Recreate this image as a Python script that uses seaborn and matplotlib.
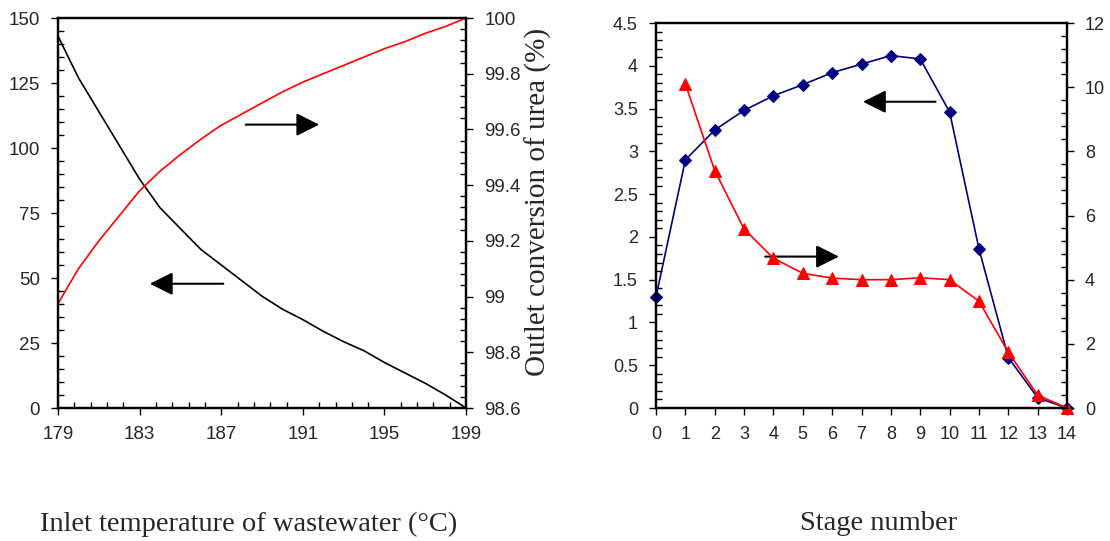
import numpy as np
import pandas as pd
import seaborn as sns
import matplotlib.pyplot as plt
from matplotlib.ticker import MultipleLocator, FixedLocator

# left chart: inlet temperature sweep
temps = list(range(179, 200))
left_black = [143, 127, 114, 101, 88, 77, 69, 61, 55, 49, 43, 38, 34, 29.5,
              25.5, 22, 17.5, 13.5, 9.5, 5, 0]
urea_conv = [98.975, 99.1, 99.2, 99.29, 99.38, 99.45, 99.51, 99.565, 99.615,
             99.655, 99.695, 99.735, 99.77, 99.8, 99.83, 99.86, 99.89, 99.915,
             99.945, 99.97, 100.0]
temp_ticks = [179, 183, 187, 191, 195, 199]

# right chart: stage profile
stages = list(range(0, 15))
blue_vals = [1.3, 2.9, 3.25, 3.48, 3.65, 3.78, 3.92, 4.02, 4.12, 4.08, 3.46,
             1.86, 0.59, 0.12, 0.0]
red_stages = list(range(1, 15))
red_vals = [10.1, 7.4, 5.58, 4.67, 4.2, 4.05, 4.0, 4.0, 4.06, 4.0, 3.33,
            1.74, 0.4, 0.0]

sns.set_style('white')
plt.rcParams['font.family'] = ['Liberation Sans', 'DejaVu Sans']

fig = plt.figure(figsize=(11.1, 5.41), dpi=100)
ax1 = fig.add_axes([0.0523, 0.2458, 0.3676, 0.7209])
ax2 = fig.add_axes([0.591, 0.2458, 0.3703, 0.7116])

serif = ['Liberation Serif', 'DejaVu Serif']
arrow_kw = dict(arrowstyle='-|>,head_length=0.7,head_width=0.35',
                color='black', lw=1.5, mutation_scale=20, shrinkA=0, shrinkB=0)


def style_axis(ax, size):
    for s in ax.spines.values():
        s.set_linewidth(1.6)
        s.set_color('black')
    ax.tick_params(which='major', direction='out', length=5, width=1,
                   labelsize=size, color='black')
    ax.tick_params(which='minor', direction='in', length=4, width=1,
                   color='black')
    ax.tick_params(axis='y', which='major', pad=8)
    ax.tick_params(axis='x', which='major', pad=8)


# ---- left chart
sns.lineplot(x=temps, y=left_black, ax=ax1, color='black', lw=1.2,
             estimator=None, sort=False)
ax1.set_xlim(179, 199)
ax1.set_ylim(0, 150)
ax1.xaxis.set_major_locator(FixedLocator(temp_ticks))
ax1.xaxis.set_minor_locator(FixedLocator(np.arange(179, 199.01, 0.8)))
ax1.yaxis.set_major_locator(MultipleLocator(25))
ax1.yaxis.set_minor_locator(MultipleLocator(5))
style_axis(ax1, 13.5)
ax1.tick_params(left=True, bottom=True, which='both')
ax1.set_xlabel('')
ax1.set_ylabel('')

ax1r = ax1.twinx()
sns.lineplot(x=temps, y=urea_conv, ax=ax1r, color='red', lw=1.2,
             estimator=None, sort=False)
ax1r.set_ylim(98.6, 100)
ax1r.yaxis.set_major_locator(MultipleLocator(0.2))
ax1r.yaxis.set_minor_locator(MultipleLocator(0.04))
ax1r.yaxis.set_major_formatter(plt.FuncFormatter(lambda v, p: f'{v:g}'))
style_axis(ax1r, 13.5)
ax1r.tick_params(right=True, which='both')
ax1r.set_ylabel('')

ax1.annotate('', xy=(183.5, 47.8), xytext=(187.1, 47.8), arrowprops=arrow_kw)
ax1.annotate('', xy=(191.8, 109), xytext=(188.2, 109), arrowprops=arrow_kw)

# ---- right chart
sns.lineplot(x=stages, y=blue_vals, ax=ax2, color='#000080', lw=1.2,
             marker='D', markersize=6, markeredgecolor='#000080',
             estimator=None, sort=False)
ax2.set_xlim(0, 14)
ax2.set_ylim(0, 4.5)
ax2.xaxis.set_major_locator(MultipleLocator(1))
ax2.yaxis.set_major_locator(MultipleLocator(0.5))
ax2.yaxis.set_minor_locator(MultipleLocator(0.1))
ax2.yaxis.set_major_formatter(plt.FuncFormatter(lambda v, p: f'{v:g}'))
style_axis(ax2, 13)
ax2.tick_params(left=True, bottom=True, which='both')
ax2.set_xlabel('')
ax2.set_ylabel('')

ax2r = ax2.twinx()
sns.lineplot(x=red_stages, y=red_vals, ax=ax2r, color='red', lw=1.2,
             marker='^', markersize=9, markeredgecolor='red',
             estimator=None, sort=False)
ax2r.set_ylim(0, 12)
ax2r.yaxis.set_major_locator(MultipleLocator(2))
ax2r.yaxis.set_minor_locator(MultipleLocator(0.4))
style_axis(ax2r, 13)
ax2r.tick_params(right=True, which='both')
ax2r.set_ylabel('')

for a in (ax1r, ax2r):
    a.set_zorder(3)
    a.patch.set_visible(False)
for ln in ax2r.lines + ax2.lines + ax1.lines + ax1r.lines:
    ln.set_clip_on(False)

ax2.annotate('', xy=(7.05, 3.58), xytext=(9.52, 3.58), arrowprops=arrow_kw)
ax2.annotate('', xy=(6.23, 1.77), xytext=(3.72, 1.77), arrowprops=arrow_kw)

# axis titles
fig.text(538 / 1110, 1 - 202 / 541, 'Outlet conversion of urea (%)',
         rotation=90, ha='center', va='center', fontsize=21, family=serif)
fig.text(40 / 1110, 1 - 524 / 541, 'Inlet temperature of wastewater (°C)',
         ha='left', va='center', fontsize=20.5, family=serif)
fig.text(879 / 1110, 1 - 524 / 541, 'Stage number',
         ha='center', va='center', fontsize=20.5, family=serif)

fig.savefig('out.png', dpi=100)
